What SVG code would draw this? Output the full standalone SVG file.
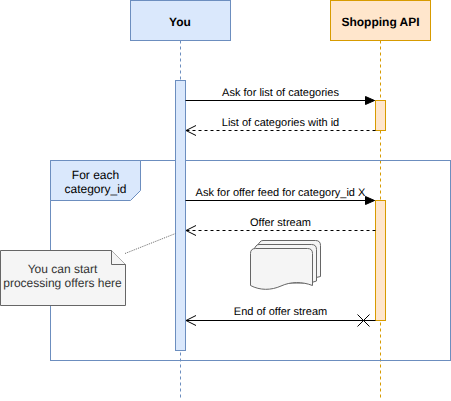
<svg xmlns="http://www.w3.org/2000/svg" width="451" height="401" viewBox="0 0 451 401">
<style>
text{font-family:"Liberation Sans",Arial,sans-serif;fill:#000;text-anchor:middle;text-rendering:geometricPrecision}
.t{font-size:12px;font-weight:bold}
.l{font-size:11px}
.c{font-size:12px}
.blue{fill:#dae8fc;stroke:#6c8ebf}
.or{fill:#ffe6cc;stroke:#d79b00}
.g{fill:#f5f5f5;stroke:#666}
.ln{fill:none;stroke:#000}
</style>
<defs>
<marker id="solid" markerUnits="userSpaceOnUse" markerWidth="12" markerHeight="10" refX="9" refY="4" orient="auto" overflow="visible"><path d="M0 0L9 4L0 8Z" fill="#000" stroke="#000"/></marker>
<marker id="open" markerUnits="userSpaceOnUse" markerWidth="12" markerHeight="12" refX="10" refY="5" orient="auto" overflow="visible"><path d="M0 0L10 5L0 10" fill="none" stroke="#000"/></marker>
</defs>
<g id="lifelines">
<path d="M180.5 40.5V400" fill="none" stroke="#6c8ebf" stroke-dasharray="3 3"/>
<path d="M380.5 40.5V400" fill="none" stroke="#d79b00" stroke-dasharray="3 3"/>
</g>
<g id="frame">
<rect x="50.5" y="160.5" width="400" height="200" fill="none" stroke="#6c8ebf"/>
<path class="blue" d="M50.5 160.5H140.5V190.5L130.5 200.5H50.5Z"/>
<text class="c" x="95.5" y="179">For each</text>
<text class="c" x="95.5" y="193">category_id</text>
</g>
<g id="you">
<rect class="blue" x="130.5" y="0.5" width="100" height="40"/>
<text class="t" x="180" y="26">You</text>
</g>
<g id="api">
<rect class="or" x="330.5" y="0.5" width="100" height="40"/>
<text class="t" x="380.5" y="26">Shopping API</text>
</g>
<g id="you-activation"><rect class="blue" x="175.5" y="80.5" width="10" height="270"/></g>
<g id="api-activation-1"><rect class="or" x="375.5" y="100.5" width="10" height="30"/></g>
<g id="api-activation-2"><rect class="or" x="375.5" y="200.5" width="10" height="120"/></g>
<g id="note">
<path class="g" d="M0.5 250.5H111.5L125.5 264.5V305.5H0.5Z"/>
<path class="g" d="M111.5 250.5V264.5H125.5"/>
<text class="c" x="62.5" y="273" style="fill:#333">You can start</text>
<text class="c" x="62.5" y="287" style="fill:#333">processing offers here</text>
</g>
<g id="documents">
<path class="g" d="M256 247L260 242Q261 240.5 263 240.5H315.5Q320.5 240.5 320.5 245.5V276.5L314 278H256Z"/>
<path class="g" d="M252 252L256 246Q257 244.5 259 244.5H311.5Q316.5 244.5 316.5 249.5V281L310 283H252Z"/>
<path class="g" d="M250.5 253.5Q250.5 248.5 255.5 248.5H307.5Q312.5 248.5 312.5 253.5V285.5C302 281.5 291 281.5 281 286C271 290.5 260 290.5 250.5 285.5Z"/>
</g>
<g id="connectors">
<path class="ln" d="M185.5 100.5H374.5" marker-end="url(#solid)"/>
<path class="ln" d="M375.5 130.5H186" stroke-dasharray="3 3" marker-end="url(#open)"/>
<path class="ln" d="M185.5 200.5H374.5" marker-end="url(#solid)"/>
<path class="ln" d="M375.5 230.5H186" stroke-dasharray="3 3" marker-end="url(#open)"/>
<path class="ln" d="M375.5 320.5H186" marker-end="url(#open)"/>
<path class="ln" d="M357.5 314.5L369.5 326.5M369.5 314.5L357.5 326.5"/>
<path d="M125 253.5L175.5 233.5" fill="none" stroke="#666" stroke-dasharray="1 1"/>
</g>
<g id="labels">
<text class="l" x="280.5" y="96">Ask for list of categories</text>
<text class="l" x="280.5" y="126">List of categories with id</text>
<text class="l" x="280.5" y="196">Ask for offer feed for category_id X</text>
<text class="l" x="280.5" y="226">Offer stream</text>
<text class="l" x="280.5" y="315">End of offer stream</text>
</g>
</svg>
